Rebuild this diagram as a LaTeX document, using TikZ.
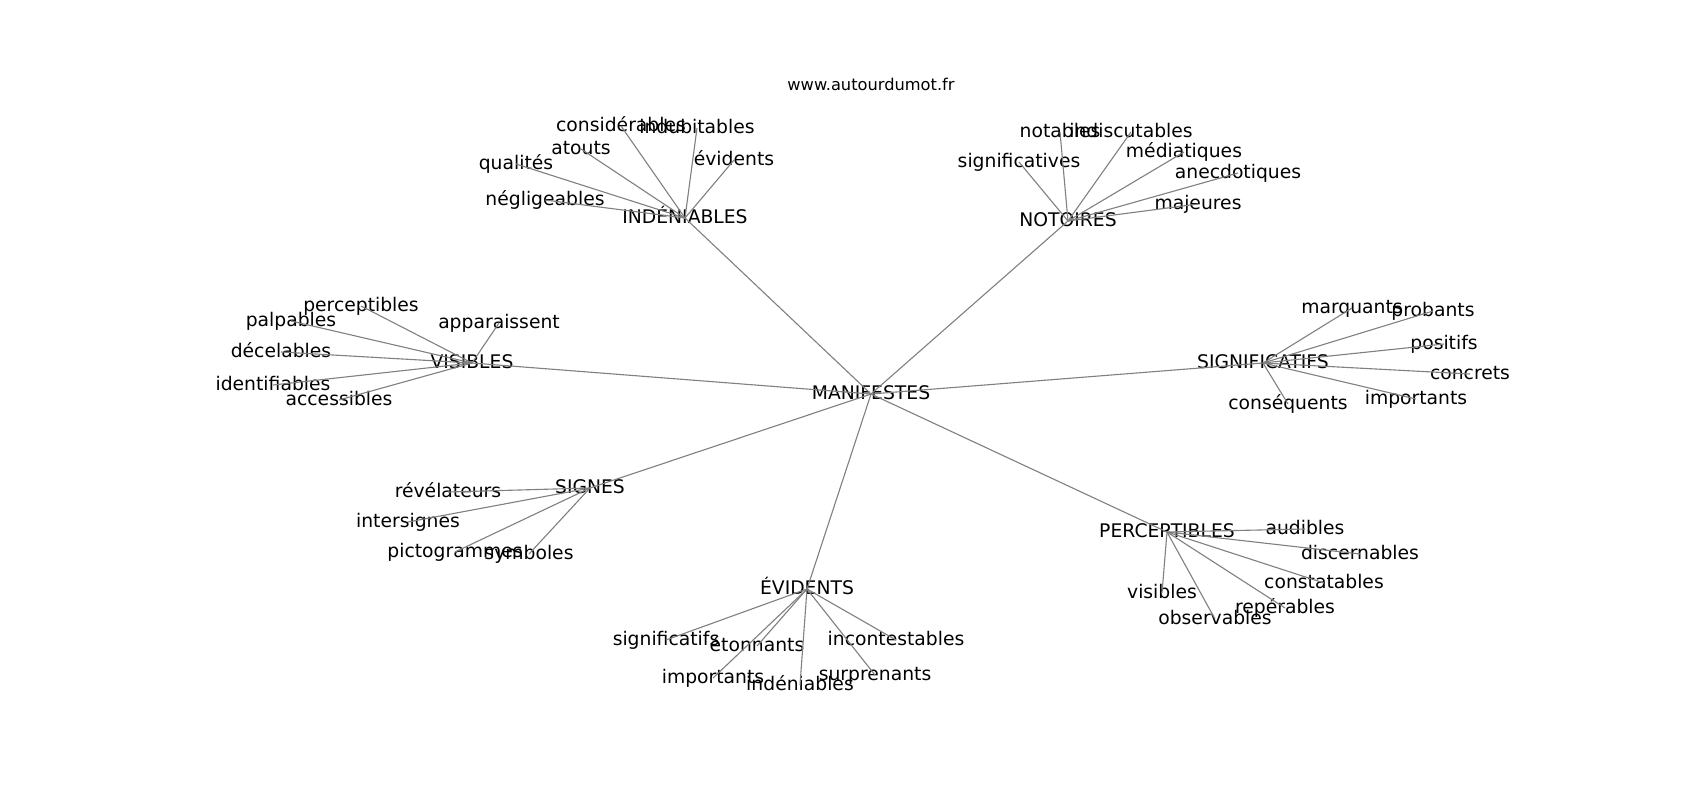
\documentclass[tikz,border=0pt]{standalone}
\usepackage{fontspec}
\setmainfont{DejaVu Sans}
\begin{document}
\begin{tikzpicture}[x=0.72pt,y=-0.72pt,
  lbl/.style={inner sep=0pt,anchor=center,font=\fontsize{13.5pt}{15pt}\selectfont,text height=0.73em,text depth=0pt},
  ttl/.style={inner sep=0pt,anchor=center,font=\fontsize{11.7pt}{13pt}\selectfont,text height=0.73em,text depth=0pt},
  edge/.style={draw=black!50,line width=0.8pt}]
\useasboundingbox (0,-2) rectangle (1700,798);
\node[ttl] (title) at (871,83) {www.autourdumot.fr};
% center
\node[lbl] (man) at (871,392) {MANIFESTES};
% hubs
\node[lbl] (ind) at (685,216) {INDÉNIABLES};
\node[lbl] (not) at (1068,219) {NOTOIRES};
\node[lbl] (vis) at (472,361) {VISIBLES};
\node[lbl] (sig) at (1263,361) {SIGNIFICATIFS};
\node[lbl] (sgn) at (590,486) {SIGNES};
\node[lbl] (evi) at (807,587) {ÉVIDENTS};
\node[lbl] (per) at (1167,530) {PERCEPTIBLES};
% INDÉNIABLES leaves
\node[lbl] (i1) at (621,124) {considérables};
\node[lbl] (i2) at (697,126) {indubitables};
\node[lbl] (i3) at (581,147) {atouts};
\node[lbl] (i4) at (516,162) {qualités};
\node[lbl] (i5) at (734,158) {évidents};
\node[lbl] (i6) at (545,198) {négligeables};
% NOTOIRES leaves
\node[lbl] (n1) at (1060,130) {notables};
\node[lbl] (n2) at (1131,130) {indiscutables};
\node[lbl] (n3) at (1184,150) {médiatiques};
\node[lbl] (n4) at (1019,160) {significatives};
\node[lbl] (n5) at (1238,171) {anecdotiques};
\node[lbl] (n6) at (1198,202) {majeures};
% VISIBLES leaves
\node[lbl] (v1) at (361,304) {perceptibles};
\node[lbl] (v2) at (291,319) {palpables};
\node[lbl] (v3) at (499,321) {apparaissent};
\node[lbl] (v4) at (281,350) {décelables};
\node[lbl] (v5) at (273,383) {identifiables};
\node[lbl] (v6) at (339,398) {accessibles};
% SIGNIFICATIFS leaves
\node[lbl] (s1) at (1352,306) {marquants};
\node[lbl] (s2) at (1433,309) {probants};
\node[lbl] (s3) at (1444,342) {positifs};
\node[lbl] (s4) at (1470,372) {concrets};
\node[lbl] (s5) at (1288,402) {conséquents};
\node[lbl] (s6) at (1416,397) {importants};
% SIGNES leaves
\node[lbl] (g1) at (448,490) {révélateurs};
\node[lbl] (g2) at (408,520) {intersignes};
\node[lbl] (g3) at (455,550) {pictogrammes};
\node[lbl] (g4) at (529,552) {symboles};
% ÉVIDENTS leaves
\node[lbl] (e1) at (666,638) {significatifs};
\node[lbl] (e2) at (757,644) {étonnants};
\node[lbl] (e3) at (896,638) {incontestables};
\node[lbl] (e4) at (713,676) {importants};
\node[lbl] (e5) at (800,683) {indéniables};
\node[lbl] (e6) at (875,673) {surprenants};
% PERCEPTIBLES leaves
\node[lbl] (p1) at (1305,527) {audibles};
\node[lbl] (p2) at (1360,552) {discernables};
\node[lbl] (p3) at (1324,581) {constatables};
\node[lbl] (p4) at (1162,591) {visibles};
\node[lbl] (p5) at (1285,606) {repérables};
\node[lbl] (p6) at (1215,617) {observables};
% edges
\foreach \h in {ind,not,vis,sig,sgn,evi,per}
  \draw[edge] (man.center) -- (\h.center);
\foreach \l in {i1,i2,i3,i4,i5,i6}
  \draw[edge] (ind.center) -- (\l.center);
\foreach \l in {n1,n2,n3,n4,n5,n6}
  \draw[edge] (not.center) -- (\l.center);
\foreach \l in {v1,v2,v3,v4,v5,v6}
  \draw[edge] (vis.center) -- (\l.center);
\foreach \l in {s1,s2,s3,s4,s5,s6}
  \draw[edge] (sig.center) -- (\l.center);
\foreach \l in {g1,g2,g3,g4}
  \draw[edge] (sgn.center) -- (\l.center);
\foreach \l in {e1,e2,e3,e4,e5,e6}
  \draw[edge] (evi.center) -- (\l.center);
\foreach \l in {p1,p2,p3,p4,p5,p6}
  \draw[edge] (per.center) -- (\l.center);
\end{tikzpicture}
\end{document}
